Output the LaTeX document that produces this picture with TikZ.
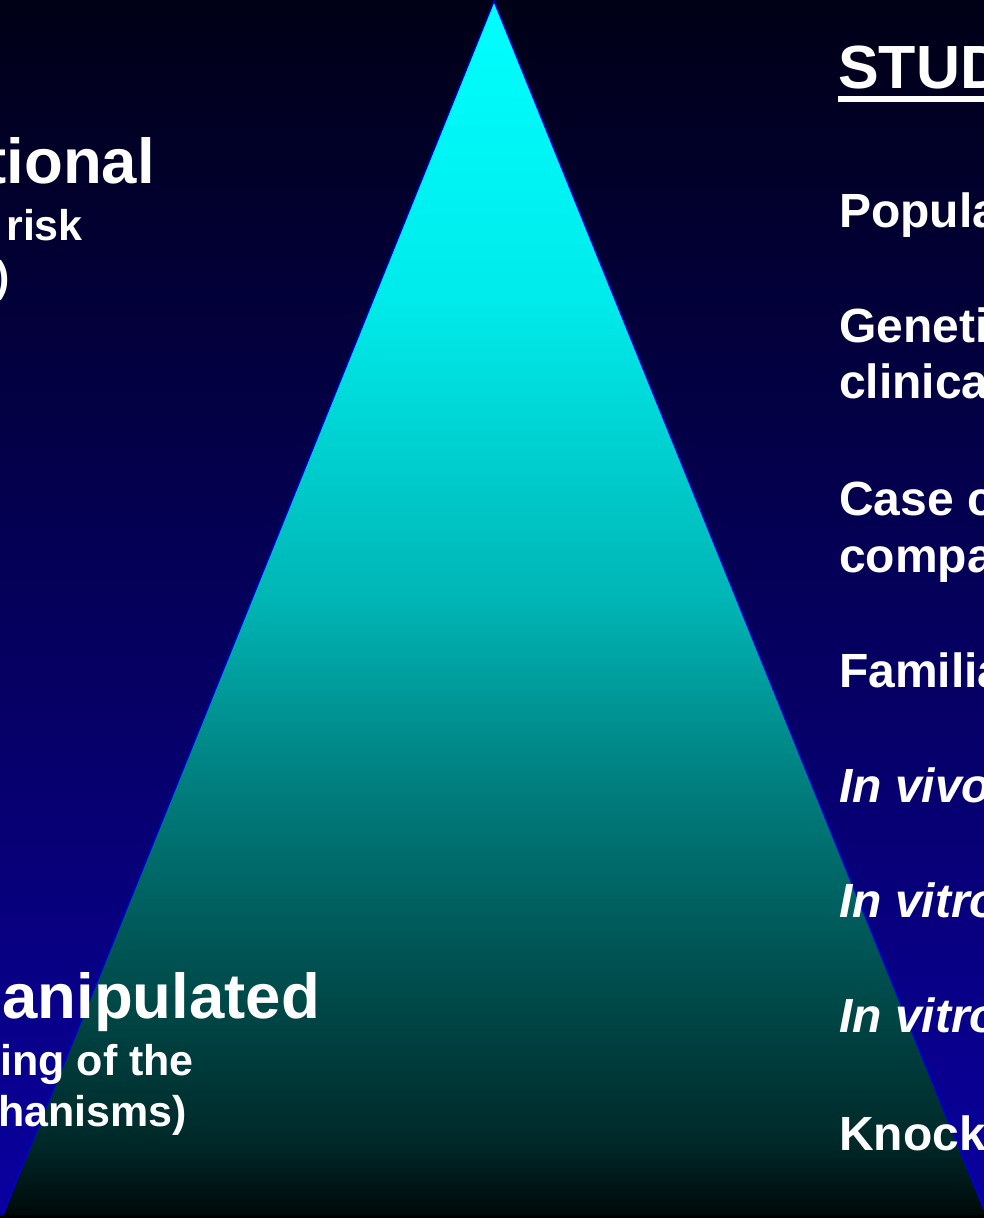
\documentclass[tikz,border=0pt]{standalone}
\usepackage{fontspec}
\setmainfont{Liberation Sans}
\usetikzlibrary{positioning}
\definecolor{bgtop}{RGB}{0,0,22}
\definecolor{bgbot}{RGB}{10,0,160}
\definecolor{edgeblue}{RGB}{0,0,210}
\pgfdeclareverticalshading{pyramid}{100bp}{%
  rgb(0bp)=(0,0.03,0.03);
  rgb(25bp)=(0,0.03,0.03);
  rgb(28.2bp)=(0,0.16,0.16);
  rgb(36bp)=(0,0.33,0.33);
  rgb(44.2bp)=(0,0.53,0.53);
  rgb(50.4bp)=(0,0.71,0.71);
  rgb(62.7bp)=(0,0.92,0.92);
  rgb(75bp)=(0,1,1);
  rgb(100bp)=(0,1,1)}
\tikzset{
    title/.style={
           text=white,
           inner sep=0pt,
           anchor=base east,
           font=\fontsize{63.5}{63.5}\selectfont\bfseries
           },
    sub/.style={
           text=white,
           inner sep=0pt,
           anchor=base east,
           font=\fontsize{43}{43}\selectfont\bfseries
           },
    head/.style={
           text=white,
           inner sep=0pt,
           anchor=base west,
           font=\fontsize{61}{61}\selectfont\bfseries
           },
    item/.style={
           text=white,
           inner sep=0pt,
           anchor=base west,
           font=\fontsize{48}{48}\selectfont\bfseries
           }
}
\begin{document}
\begin{tikzpicture}[x=1pt, y=-1pt]
   \useasboundingbox (0,0) rectangle (984,1218);
   \clip (0,0) rectangle (984,1218);
   \shade[top color=bgtop, bottom color=bgbot] (0,0) rectangle (984,1218);

   \coordinate (apex) at (494,1);
   \coordinate (bl) at (1,1219);
   \coordinate (br) at (988,1219);
   \shade[shading=pyramid, draw=edgeblue, line width=1.5pt] (apex) -- (bl) -- (br) -- cycle;
   \fill[black] (0,1215) rectangle (984,1218);

   % left side
   \node[title] (obs) at (155,183) {tional};
   \node[sub] (obs1) at (83,240) {risk};
   \node[sub] (obs2) at (10,291) {)};
   \node[title] (man) at (320,1018) {anipulated};
   \node[sub] (man1) at (194,1075) {ing of the};
   \node[sub] (man2) at (187,1126) {hanisms)};

   % right side
   \node[head] (stud) at (838,88) {STUD};
   \fill[white] ([yshift=-8pt]stud.base west) rectangle ++(160pt,-6pt);
   \node[item] (pop) at (839,227) {Popula};
   \node[item, below=115pt of pop.base west, anchor=base west] (gen) {Geneti};
   \node[item, below=56pt of gen.base west, anchor=base west] (gen1) {clinica};
   \node[item, below=173pt of gen.base west, anchor=base west] (case) {Case c};
   \node[item, below=57pt of case.base west, anchor=base west] (case1) {compa};
   \node[item, below=172pt of case.base west, anchor=base west] (fam) {Familia};
   \node[item, below=115pt of fam.base west, anchor=base west] (vivo) {\itshape In vivo};
   \node[item, below=115pt of vivo.base west, anchor=base west] (vitro) {\itshape In vitro};
   \node[item, below=115pt of vitro.base west, anchor=base west] (vitro2) {\itshape In vitro};
   \node[item, below=118pt of vitro2.base west, anchor=base west] (knock) {Knock};
\end{tikzpicture}
\end{document}
